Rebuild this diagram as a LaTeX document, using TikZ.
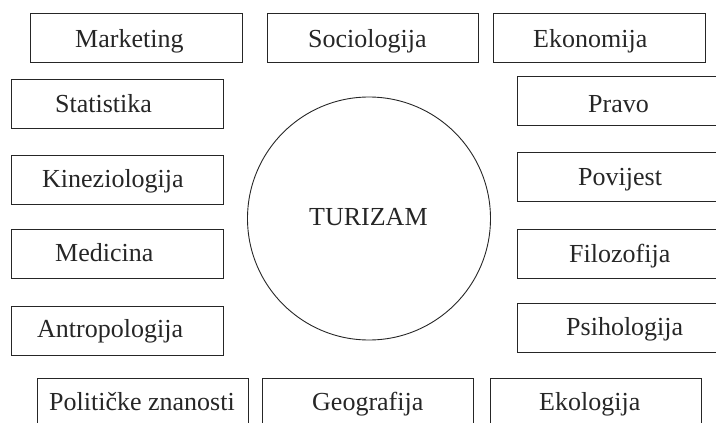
\documentclass[tikz,border=0pt]{standalone}
\usepackage{fontspec}
\setmainfont{Liberation Serif}
\begin{document}
\begin{tikzpicture}[x=1pt,y=-1pt,
  boxnode/.style={draw=black!85,line width=0.9pt,minimum height=49pt,inner sep=0pt,rectangle},
  lbl/.style={anchor=base west,inner sep=0pt,text=black!85,font=\fontsize{26}{30}\selectfont},
  ring/.style={draw=black!85,line width=0.9pt,circle,minimum size=243pt,inner sep=0pt}]
\useasboundingbox (0,0) rectangle (716,423);
\clip (0,0) rectangle (716,423);
% boxes
\node[boxnode,minimum width=212pt] (mkt) at (136,37.5) {};
\node[boxnode,minimum width=211pt] (soc) at (372.5,37.5) {};
\node[boxnode,minimum width=212pt] (eko) at (599,37.5) {};
\node[boxnode,minimum width=212pt] (stat) at (117,103.5) {};
\node[boxnode,minimum width=212pt] (pravo) at (623,100.5) {};
\node[boxnode,minimum width=212pt] (kin) at (117,180) {};
\node[boxnode,minimum width=212pt] (pov) at (623,176.5) {};
\node[boxnode,minimum width=212pt] (med) at (117,253.5) {};
\node[boxnode,minimum width=212pt] (fil) at (623,253.5) {};
\node[boxnode,minimum width=212pt] (antr) at (117,330.5) {};
\node[boxnode,minimum width=212pt] (psih) at (623,327.5) {};
\node[boxnode,minimum width=211pt] (pol) at (142.5,402.5) {};
\node[boxnode,minimum width=211pt] (geo) at (367.5,402.5) {};
\node[boxnode,minimum width=211pt] (ekol) at (595.5,402.5) {};
\node[ring] (tur) at (369,218.5) {};
% labels
\node[lbl] (tmkt) at (75,47.5) {Marketing};
\node[lbl] (tsoc) at (308,47.5) {Sociologija};
\node[lbl] (teko) at (533,47.5) {Ekonomija};
\node[lbl] (tstat) at (55,112.5) {Statistika};
\node[lbl] (tpravo) at (588,112) {Pravo};
\node[lbl] (tkin) at (42,187) {Kineziologija};
\node[lbl] (tpov) at (578,185) {Povijest};
\node[lbl] (tmed) at (55,261) {Medicina};
\node[lbl] (tfil) at (569,262) {Filozofija};
\node[lbl] (tantr) at (37,337) {Antropologija};
\node[lbl] (tpsih) at (566,335) {Psihologija};
\node[lbl] (tpol) at (49,410) {Političke znanosti};
\node[lbl] (tgeo) at (312,410) {Geografija};
\node[lbl] (tekol) at (539,410) {Ekologija};
\node[lbl] (ttur) at (309,225) {TURIZAM};
\end{tikzpicture}
\end{document}
